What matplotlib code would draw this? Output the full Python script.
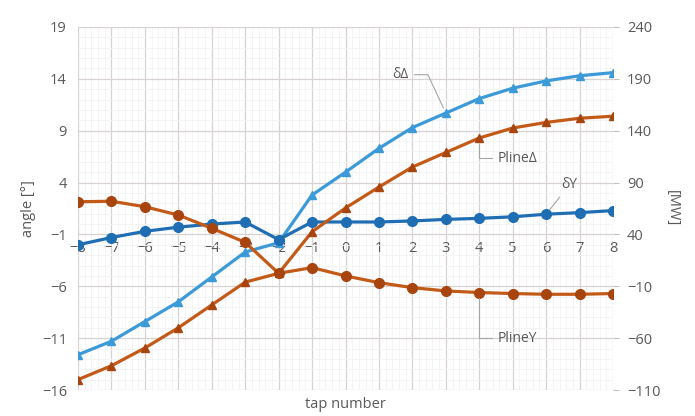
import numpy as np
import matplotlib
matplotlib.use("Agg")
from matplotlib import pyplot as plt
from matplotlib.ticker import MultipleLocator

# tap positions
taps = list(range(-8, 9))

# angles [deg], left axis
delta_d = [-12.6, -11.3, -9.4, -7.5, -5.1, -2.7, -1.8, 2.8, 5.0, 7.3,
           9.3, 10.7, 12.1, 13.1, 13.8, 14.3, 14.6]
delta_y = [-2.0, -1.3, -0.7, -0.3, 0.0, 0.2, -1.5, 0.2, 0.2, 0.2,
           0.3, 0.45, 0.55, 0.7, 0.95, 1.1, 1.3]

# line powers [MW], right axis
pline_d = [-100, -86.6, -69.5, -50, -28, -6, 2.5, 42.6, 65.5, 85.7,
           105, 119, 133, 142.6, 148, 152, 154]
pline_y = [71.5, 72, 66.7, 58.7, 45.9, 32.4, 2.5, 8, 0, -6.5,
           -11.3, -14.5, -16, -17, -17.7, -17.7, -17]

LIGHT_BLUE = "#3c9ad8"
DARK_BLUE = "#1f6eb4"
ORANGE = "#c45a17"
ORANGE_MK = "#a8450f"
TXT = "#595959"

plt.rcParams['font.family'] = ['Open Sans', 'DejaVu Sans']

fig = plt.figure(figsize=(6.95, 4.16), dpi=100)
ax = fig.add_axes([78/695, 1-390/416, 535/695, 363/416])
ax2 = ax.twinx()

ax.set_xlim(-8, 8)
ax.set_ylim(-16, 19)
ax2.set_ylim(-110, 240)

ax.set_yticks(np.arange(-16, 20, 5))
ax.set_xticks(taps)
ax2.set_yticks(np.arange(-110, 241, 50))
ax.xaxis.set_minor_locator(MultipleLocator(0.2))
ax.yaxis.set_minor_locator(MultipleLocator(1))

ax.grid(which='major', color='#d8d2d2', lw=0.9)
ax.grid(which='minor', color='#f0f2f5', lw=0.6)
ax.set_axisbelow(True)

for a in (ax, ax2):
    for s in a.spines.values():
        s.set_visible(False)

ax.spines['bottom'].set_position(('data', -1))
ax.tick_params(axis='x', length=0, pad=5, labelsize=10.5, labelcolor=TXT)
ax.tick_params(axis='y', length=0, pad=8, labelsize=10.5, labelcolor=TXT)
ax.tick_params(which='minor', length=0)
ax2.tick_params(axis='y', length=4, color='#bfbfbf', pad=6, labelsize=10.5, labelcolor=TXT)

ax.set_ylabel("angle [°]", color=TXT, fontsize=10.5, labelpad=4)
ax2.set_ylabel("[MW]", color=TXT, fontsize=10.5, rotation=-90, labelpad=14)
fig.text(345/695, 1-405/416, "tap number", color=TXT, fontsize=10.5,
         ha='center', va='center')

ax.plot(taps, delta_d, color=LIGHT_BLUE, lw=2.3, marker='^', ms=6, zorder=3)
ax.plot(taps, delta_y, color=DARK_BLUE, lw=2.3, marker='o', ms=7, zorder=3)
ax2.plot(taps, pline_d, color=ORANGE, lw=2.3, marker='^', ms=6,
         mfc=ORANGE_MK, mec=ORANGE_MK, zorder=3)
ax2.plot(taps, pline_y, color=ORANGE, lw=2.3, marker='o', ms=7,
         mfc=ORANGE_MK, mec=ORANGE_MK, zorder=3)

lead = dict(arrowstyle='-', color='#a6a6a6', lw=0.8, shrinkA=2, shrinkB=4)
ax.annotate("δΔ", xy=(3, delta_d[11]), xytext=(1.65, 14.4), color=TXT,
            fontsize=10, ha='center', va='center',
            arrowprops=dict(lead, connectionstyle="angle,angleA=0,angleB=115,rad=0"))
ax2.annotate("PlineΔ", xy=(4, pline_d[12]), xytext=(4.55, 113.5), color=TXT,
             fontsize=10, ha='left', va='center',
             arrowprops=dict(lead, connectionstyle="angle,angleA=0,angleB=90,rad=0"))
ax.annotate("δY", xy=(6, delta_y[14]), xytext=(6.7, 3.8), color=TXT,
            fontsize=10, ha='center', va='center',
            arrowprops=dict(lead, connectionstyle="arc3"))
ax2.annotate("PlineY", xy=(4, pline_y[12]), xytext=(4.55, -60), color=TXT,
             fontsize=10, ha='left', va='center',
             arrowprops=dict(lead, connectionstyle="angle,angleA=0,angleB=90,rad=0"))

fig.savefig("out.png", dpi=100)
